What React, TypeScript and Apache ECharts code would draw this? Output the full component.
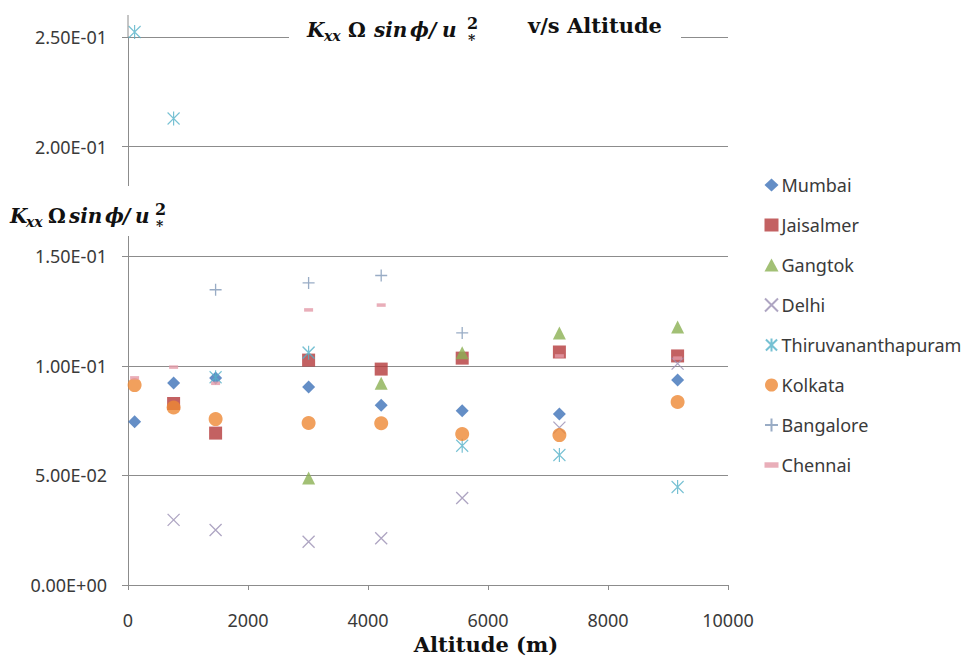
import React, { useEffect, useRef } from "react";
import * as echarts from "echarts";

// ---- data ----
const altitudes = [110, 760, 1460, 3010, 4220, 5570, 7190, 9160];
const mumbai = [0.0745, 0.0921, 0.0944, 0.0903, 0.082, 0.0795, 0.078, 0.0935];
const jaisalmer = [null, 0.0828, 0.0693, 0.1026, 0.0985, 0.1035, 0.1063, 0.1045];
const gangtok = [null, null, null, 0.0488, 0.092, 0.106, 0.115, 0.1177];
const delhi = [null, 0.0297, 0.0251, 0.0197, 0.0213, 0.0397, 0.0718, 0.101];
const thiruvananthapuram = [0.2523, 0.2128, 0.0948, 0.106, null, 0.0635, 0.0593, 0.0447];
const kolkata = [0.0912, 0.081, 0.0757, 0.0739, 0.0738, 0.0689, 0.0684, 0.0835];
const bangalore = [null, null, 0.1347, 0.1378, 0.1412, 0.115, null, null];
const chennai = [0.0945, 0.0994, 0.092, 0.1255, 0.1277, null, 0.1045, 0.1035];

const cityNames = ["Mumbai", "Jaisalmer", "Gangtok", "Delhi", "Thiruvananthapuram", "Kolkata", "Bangalore", "Chennai"];
const cityValues = [mumbai, jaisalmer, gangtok, delhi, thiruvananthapuram, kolkata, bangalore, chennai];

const yTicks = { min: 0, max: 0.25, step: 0.05 };
const xTicks = { min: 0, max: 10000, step: 2000 };

// ---- styles ----
const X_PATH = "path://M0,0L12,12M12,0L0,12";
const STAR_PATH = "path://M0,0L12,12M12,0L0,12M6,-1L6,13";
const PLUS_PATH = "path://M6,0L6,12M0,6L12,6";
const DASH_PATH = "path://M0,0L9,0L9,3.5L0,3.5Z";

const cityStyles: any[] = [
  { symbol: "diamond", size: 13, color: "#3D72B8" },
  { symbol: "rect", size: 13, color: "#B4393B" },
  { symbol: "triangle", size: 13, color: "#8BB052" },
  { symbol: X_PATH, size: 12, color: "#9A8FB3", stroke: true },
  { symbol: STAR_PATH, size: [12, 14], color: "#55B2C8", stroke: true },
  { symbol: "circle", size: 14, color: "#EE8834" },
  { symbol: PLUS_PATH, size: 12, color: "#7F97B6", stroke: true },
  { symbol: DASH_PATH, size: [9, 3.5], color: "#E39AA7" },
];

function fmtExp(v: number) {
  const [m, e] = v.toExponential(2).split("e");
  const n = parseInt(e, 10);
  return m + "E" + (n < 0 ? "-" : "+") + String(Math.abs(n)).padStart(2, "0");
}

type Piece = { t: string; dx: number; size?: number; italic?: boolean; dy?: number };
const SERIF = '"DejaVu Serif"';

function mathText(x0: number, base: number, pieces: Piece[]) {
  return pieces.map((p) => {
    const size = p.size || 20;
    const font = `${p.italic ? "italic " : ""}bold ${size}px ${SERIF}`;
    return {
      type: "text",
      x: x0 + p.dx,
      y: base + (p.dy || 0) - size * 0.36,
      z: 120,
      style: {
        text: p.t,
        font,
        fill: "#111",
        align: "left",
        textAlign: "left",
        verticalAlign: "middle",
        textVerticalAlign: "middle",
      },
    };
  });
}

const titleFormula: Piece[] = [
  { t: "K", dx: 0, italic: true },
  { t: "xx", dx: 17, italic: true, size: 14, dy: 4 },
  { t: "Ω", dx: 41 },
  { t: "sin", dx: 67, italic: true },
  { t: "ϕ", dx: 103, italic: true },
  { t: "/", dx: 122, italic: true },
  { t: "u", dx: 135, italic: true },
  { t: "2", dx: 160, size: 16, dy: -8 },
  { t: "*", dx: 161, size: 14, dy: 8 },
];

const axisFormula: Piece[] = [
  { t: "K", dx: 0, italic: true },
  { t: "xx", dx: 16, italic: true, size: 14, dy: 4 },
  { t: "Ω", dx: 38 },
  { t: "sin", dx: 59, italic: true },
  { t: "ϕ", dx: 95, italic: true },
  { t: "/", dx: 113, italic: true },
  { t: "u", dx: 125, italic: true },
  { t: "2", dx: 145, size: 16, dy: -8 },
  { t: "*", dx: 146, size: 14, dy: 8 },
];

export default function App() {
  const ref = useRef<HTMLDivElement>(null);
  useEffect(() => {
    if (!ref.current) return;
    const chart = echarts.init(ref.current, undefined, { renderer: "svg" });

    const series = cityNames.map((name, i) => {
      const st = cityStyles[i];
      const data = altitudes
        .map((a, j) => [a, cityValues[i][j]])
        .filter((d) => d[1] !== null && d[1] !== undefined);
      return {
        type: "scatter",
        name,
        data,
        clip: false,
        symbol: st.symbol,
        symbolSize: st.size,
        itemStyle: st.stroke
          ? { color: "rgba(0,0,0,0)", borderColor: st.color, borderWidth: 1.3 }
          : { color: st.color, borderWidth: 0 },
        emphasis: { disabled: true },
      };
    });

    const graphics: any[] = [
      // white boxes behind titles
      { type: "rect", z: 110, shape: { x: 289, y: 6, width: 392, height: 50 }, style: { fill: "#fff" } },
      { type: "rect", z: 110, shape: { x: 0, y: 186, width: 190, height: 50 }, style: { fill: "#fff" } },
      // extension of vertical axis above the last gridline
      { type: "line", z: 105, shape: { x1: 128, y1: 15, x2: 128, y2: 37 }, style: { stroke: "#8c8c8c", lineWidth: 1 } },
      ...mathText(307, 37, titleFormula),
      {
        type: "text",
        x: 528,
        y: 33 - 21 * 0.36,
        z: 120,
        style: { text: "v/s Altitude", font: `bold 21px ${SERIF}`, fill: "#111", verticalAlign: "middle", textVerticalAlign: "middle" },
      },
      ...mathText(10, 223, axisFormula),
      {
        type: "text",
        x: 486,
        y: 652 - 21 * 0.36,
        z: 120,
        style: {
          text: "Altitude (m)",
          font: `bold 21px ${SERIF}`,
          fill: "#111",
          align: "center",
          textAlign: "center",
          verticalAlign: "middle",
          textVerticalAlign: "middle",
        },
      },
    ];

    chart.setOption({
      animation: false,
      backgroundColor: "#fff",
      grid: { left: 128, right: 242, top: 37, bottom: 75, containLabel: false },
      xAxis: {
        type: "value",
        min: xTicks.min,
        max: xTicks.max,
        interval: xTicks.step,
        axisLine: { show: true, lineStyle: { color: "#8c8c8c", width: 1 } },
        axisTick: { show: true, inside: false, length: 5, lineStyle: { color: "#8c8c8c" } },
        splitLine: { show: false },
        axisLabel: {
          fontFamily: "Noto Sans",
          fontSize: 18,
          color: "#3a3a3a",
          margin: 26,
          formatter: (v: number) => String(v),
        },
      },
      yAxis: {
        type: "value",
        min: yTicks.min,
        max: yTicks.max,
        interval: yTicks.step,
        axisLine: { show: true, lineStyle: { color: "#8c8c8c", width: 1 } },
        axisTick: { show: true, inside: false, length: 6, lineStyle: { color: "#8c8c8c" } },
        splitLine: { show: true, lineStyle: { color: "#8c8c8c", width: 1 } },
        axisLabel: {
          fontFamily: "Noto Sans",
          fontSize: 18,
          color: "#3a3a3a",
          margin: 21,
          formatter: (v: number) => fmtExp(v),
        },
      },
      legend: {
        orient: "vertical",
        left: 759,
        top: 171,
        itemWidth: 14,
        itemHeight: 13,
        itemGap: 22,
        textStyle: { fontFamily: "Noto Sans", fontSize: 18, color: "#3a3a3a", padding: [0, 0, 0, -2] },
        data: cityNames,
        selectedMode: false,
      },
      series,
      graphic: { elements: graphics },
    });
    return () => chart.dispose();
  }, []);
  return <div ref={ref} style={{ position: "fixed", left: 0, top: 0, width: 970, height: 660 }} />;
}
